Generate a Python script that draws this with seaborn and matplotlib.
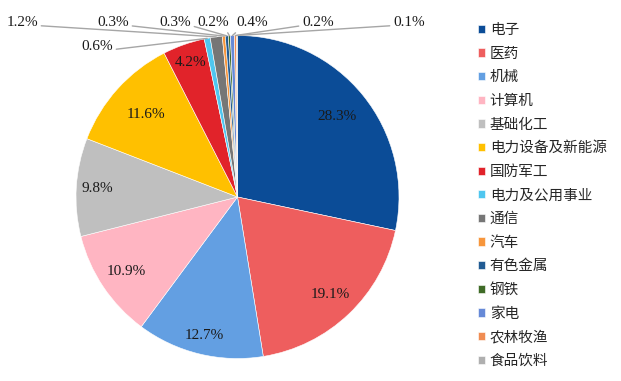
import numpy as np
import matplotlib
matplotlib.use("Agg")
import matplotlib.pyplot as plt
import seaborn as sns

# data
industries = ["电子", "医药", "机械", "计算机", "基础化工", "电力设备及新能源", "国防军工",
              "电力及公用事业", "通信", "汽车", "有色金属", "钢铁", "家电", "农林牧渔", "食品饮料"]
shares = [28.3, 19.1, 12.7, 10.9, 9.8, 11.6, 4.2, 0.6, 1.2, 0.3, 0.3, 0.2, 0.4, 0.2, 0.1]
colors = ["#0B4C97", "#EE5E5E", "#639FE2", "#FFB5C2", "#BFBFBF", "#FFC000", "#E1232A",
          "#4FC6EF", "#767676", "#F7963C", "#215B93", "#3F6B27", "#6689D7", "#F08C52", "#AFAFAF"]

sns.set_theme(style="white")
plt.rcParams["font.family"] = ["Liberation Serif", "Noto Sans CJK SC", "DejaVu Sans"]

fig = plt.figure(figsize=(6.21, 3.81), dpi=100)
# pie centre ~ (237.5, 197) px, radius ~161.5 px
ax = fig.add_axes([76 / 621, (381 - 197 - 161.5) / 381, 323 / 621, 323 / 381])

def big_pct(p):
    return f"{p:.1f}%" if p >= 3 else ""

wedges, _, autotexts = ax.pie(shares, colors=colors, startangle=90, counterclock=False,
                              autopct=big_pct, pctdistance=0.82,
                              wedgeprops=dict(edgecolor="white", linewidth=0.4),
                              textprops=dict(fontsize=11, color="#1A1A1A", family="Liberation Serif"))
ax.set_xlim(-1, 1)
ax.set_ylim(-1, 1)
ax.set_aspect("equal")
ax.axis("off")

# push the inside labels to roughly where the original has them
inner_r = [0.79, 0.83, 0.88, 0.83, 0.87, 0.76, 0.88]
for t, w, r in zip(autotexts, wedges, inner_r):
    ang = np.deg2rad((w.theta1 + w.theta2) / 2)
    t.set_position((r * np.cos(ang), r * np.sin(ang)))

# outer labels for the small slices (text anchor in pixels, alignment, line start on text)
def px(x, y):
    return (x - 237.5) / 161.5, (197 - y) / 161.5

small_layout = {
    7: (px(113, 47), "right", (1.0, 0.3)),
    8: (px(38, 23), "right", (1.0, 0.3)),
    9: (px(129, 23), "right", (1.0, 0.3)),
    10: (px(191, 23), "right", (1.0, 0.3)),
    11: (px(229, 23), "right", (0.9, 0.0)),
    12: (px(236, 23), "left", (0.1, 0.0)),
    13: (px(302, 23), "left", (0.0, 0.3)),
    14: (px(393, 23), "left", (0.0, 0.3)),
}
for i, (pos, ha, rel) in small_layout.items():
    w = wedges[i]
    ang = np.deg2rad((w.theta1 + w.theta2) / 2)
    ax.annotate(f"{shares[i]:.1f}%", xy=(np.cos(ang), np.sin(ang)), xytext=pos,
                ha=ha, va="center", fontsize=11, color="#1A1A1A", family="Liberation Serif",
                arrowprops=dict(arrowstyle="-", color="#A6A6A6", lw=1,
                                shrinkA=0, shrinkB=0, relpos=rel))

fig.legend(wedges, industries, loc="upper left", bbox_to_anchor=(465 / 621, 1 - 10 / 381),
           frameon=False, handlelength=0.5, handleheight=0.5, handletextpad=0.3,
           labelspacing=0.66, prop=dict(family=["Noto Sans CJK SC"], size=10.5))

fig.savefig("out.png", dpi=100)
